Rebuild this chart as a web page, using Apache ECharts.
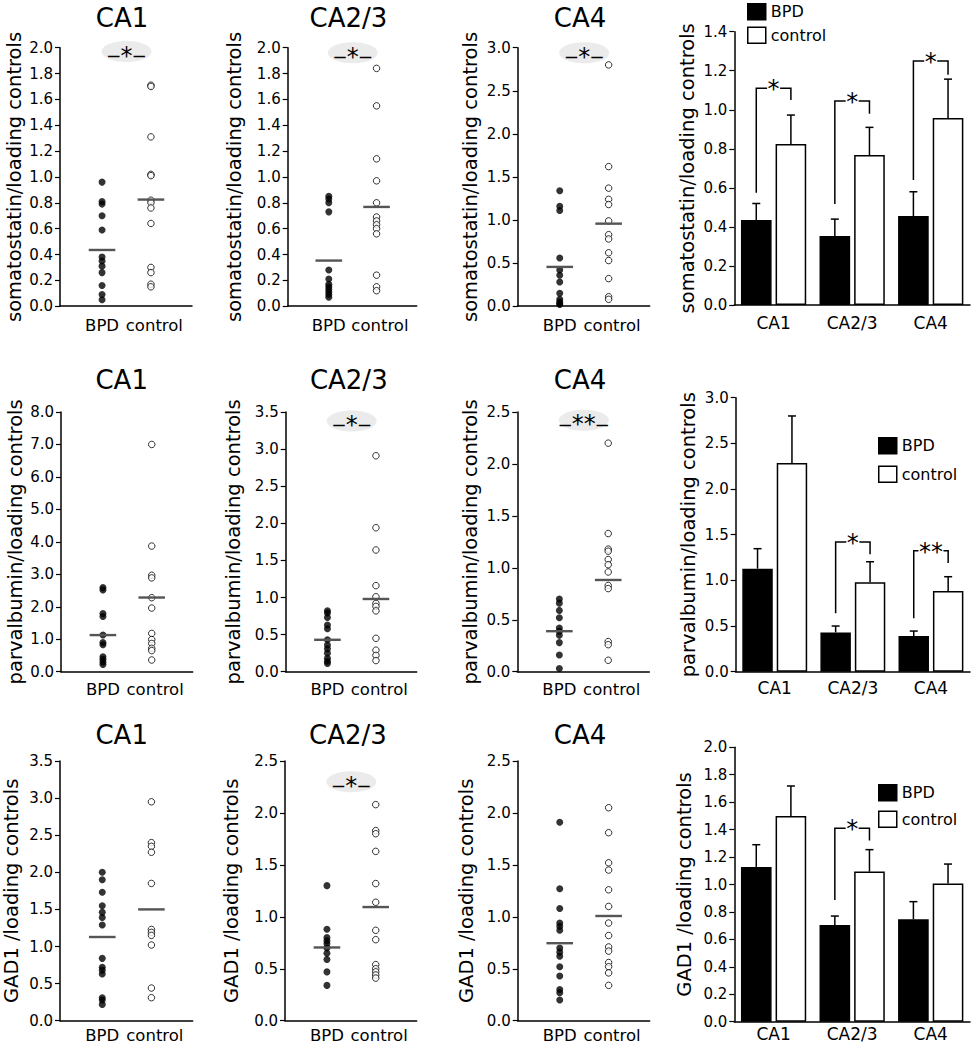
<!DOCTYPE html>
<html><head><meta charset="utf-8">
<script src="https://cdn.jsdelivr.net/npm/echarts@6/dist/echarts.min.js"></script>
<style>html,body{margin:0;padding:0;background:#fff}#c{width:971px;height:1050px}</style>
</head><body><div id="c"></div>
<script>
// ---------- data ----------
const regions = ['CA1', 'CA2/3', 'CA4'];
const groups = ['BPD', 'control'];
const markers = ['somatostatin', 'parvalbumin', 'GAD1'];
const yNames = ['somatostatin/loading controls', 'parvalbumin/loading controls', 'GAD1 /loading controls'];

// individual subjects (scatter panels)
const sstCA1_BPD  = [0.96, 0.81, 0.79, 0.70, 0.59, 0.38, 0.35, 0.31, 0.26, 0.16, 0.09, 0.05];
const sstCA1_Ctrl = [1.71, 1.70, 1.31, 1.02, 1.01, 0.82, 0.80, 0.76, 0.64, 0.30, 0.26, 0.17, 0.15];
const sstCA23_BPD  = [0.85, 0.83, 0.80, 0.73, 0.28, 0.21, 0.17, 0.15, 0.13, 0.11, 0.09, 0.07];
const sstCA23_Ctrl = [1.84, 1.55, 1.14, 0.97, 0.80, 0.69, 0.66, 0.63, 0.60, 0.56, 0.24, 0.15, 0.12];
const sstCA4_BPD  = [1.34, 1.16, 1.11, 0.56, 0.42, 0.36, 0.28, 0.15, 0.08, 0.05, 0.03, 0.02];
const sstCA4_Ctrl = [2.80, 1.62, 1.37, 1.24, 1.18, 0.99, 0.83, 0.78, 0.62, 0.53, 0.32, 0.11, 0.08];

const pvCA1_BPD  = [2.59, 2.52, 1.79, 1.70, 1.13, 0.90, 0.83, 0.46, 0.38, 0.30, 0.22];
const pvCA1_Ctrl = [7.00, 3.87, 2.97, 2.89, 2.28, 1.96, 1.18, 0.99, 0.87, 0.72, 0.65, 0.36];
const pvCA23_BPD  = [0.82, 0.79, 0.73, 0.63, 0.58, 0.43, 0.36, 0.31, 0.25, 0.18, 0.14, 0.11];
const pvCA23_Ctrl = [2.91, 1.94, 1.64, 1.16, 1.01, 0.92, 0.88, 0.82, 0.45, 0.29, 0.22, 0.15];
const pvCA4_BPD  = [0.70, 0.66, 0.59, 0.52, 0.42, 0.39, 0.35, 0.28, 0.16, 0.03];
const pvCA4_Ctrl = [2.20, 1.33, 1.18, 1.16, 1.08, 1.03, 0.96, 0.83, 0.80, 0.29, 0.26, 0.11];

const gadCA1_BPD  = [2.00, 1.90, 1.73, 1.55, 1.46, 1.39, 1.29, 0.84, 0.72, 0.68, 0.63, 0.31, 0.28, 0.22];
const gadCA1_Ctrl = [2.95, 2.40, 2.35, 2.27, 1.85, 1.23, 1.19, 1.15, 1.02, 0.44, 0.31];
const gadCA23_BPD  = [1.30, 0.88, 0.80, 0.77, 0.74, 0.70, 0.65, 0.59, 0.47, 0.34];
const gadCA23_Ctrl = [2.08, 1.83, 1.80, 1.63, 1.32, 1.14, 0.87, 0.78, 0.54, 0.50, 0.47, 0.44, 0.41];
const gadCA4_BPD  = [1.91, 1.27, 1.08, 0.94, 0.91, 0.87, 0.70, 0.66, 0.62, 0.52, 0.43, 0.30, 0.27, 0.20];
const gadCA4_Ctrl = [2.05, 1.81, 1.52, 1.45, 1.26, 1.10, 0.94, 0.82, 0.71, 0.67, 0.56, 0.52, 0.46, 0.34];

// group means and SEM (bar panels, also mean lines)
const sstMeanBPD  = [0.435, 0.353, 0.456];
const sstMeanCtrl = [0.825, 0.768, 0.958];
const sstSemBPD   = [0.085, 0.087, 0.124];
const sstSemCtrl  = [0.148, 0.142, 0.199];
const pvMeanBPD  = [1.128, 0.430, 0.390];
const pvMeanCtrl = [2.285, 0.980, 0.883];
const pvSemBPD   = [0.219, 0.070, 0.055];
const pvSemCtrl  = [0.515, 0.224, 0.157];
const gadMeanBPD  = [1.128, 0.705, 0.746];
const gadMeanCtrl = [1.500, 1.094, 1.008];
const gadSemBPD   = [0.162, 0.065, 0.129];
const gadSemCtrl  = [0.218, 0.160, 0.141];

// significance labels per region
const sstSig = ['*', '*', '*'];
const pvSig  = ['', '*', '**'];
const gadSig = ['', '*', ''];
// value level of the significance bubble in scatter panels
const sstSigLevel = [1.97, 1.96, 2.94];
const pvSigLevel  = [0, 3.38, 2.42];
const gadSigLevel = [0, 2.30, 0];
// bar-panel brackets: [region index, left arm bottom, bracket top, right arm bottom]
const sstBrackets = [[0, 0.575, 1.11, 1.05], [1, 0.517, 1.045, 0.98], [2, 0.64, 1.25, 1.18]];
const pvBrackets  = [[1, 0.64, 1.42, 1.285], [2, 0.584, 1.325, 1.19]];
const gadBrackets = [[1, 0.887, 1.41, 1.32]];

// axis scales / tick labels
const scatterYMax = [[2, 2, 3], [8, 3.5, 2.5], [3.5, 2.5, 2.5]];
const scatterYInt = [[0.2, 0.2, 0.5], [1, 0.5, 0.5], [0.5, 0.5, 0.5]];
const barYMax = [1.4, 3, 2];
const barYInt = [0.2, 0.5, 0.2];

// ---------- layout ----------
const FONT = 'DejaVu Sans';
const scatterRows = [{top: 47.7, h: 258.5}, {top: 412, h: 259.7}, {top: 761, h: 259.7}];
const barRows = [{top: 31.7, h: 273.3}, {top: 397.7, h: 274}, {top: 747.3, h: 274.4}];
const colLeft = [[60, 287.7, 517.7, 734.3], [61, 285.7, 517.3, 735.7], [60, 285, 517.7, 734.3]];
const colWidth = [[132, 129, 132, 235.7], [131.7, 131, 132, 234.3], [132.7, 131.7, 132, 235.7]];
const nameGaps = [[36, 43, 37, 37], [36, 42, 37, 37], [39, 44, 41, 40]];
const titleX = [[122, 348.5, 580], [121.7, 348.8, 580], [121.7, 348, 580]];
const titleY = [18, 380, 735];
const scatterLabelMargin = [11, 9, 6];
const barLabelMargin = [9, 8, 4];
const legendPos = [{left: 747, top: 3, gap: 6}, {left: 878, top: 437, gap: 11}, {left: 878, top: 784, gap: 9}];

const scatterData = [
  [[sstCA1_BPD, sstCA1_Ctrl], [sstCA23_BPD, sstCA23_Ctrl], [sstCA4_BPD, sstCA4_Ctrl]],
  [[pvCA1_BPD, pvCA1_Ctrl], [pvCA23_BPD, pvCA23_Ctrl], [pvCA4_BPD, pvCA4_Ctrl]],
  [[gadCA1_BPD, gadCA1_Ctrl], [gadCA23_BPD, gadCA23_Ctrl], [gadCA4_BPD, gadCA4_Ctrl]]
];
const meanBPD = [sstMeanBPD, pvMeanBPD, gadMeanBPD];
const meanCtrl = [sstMeanCtrl, pvMeanCtrl, gadMeanCtrl];
const semBPD = [sstSemBPD, pvSemBPD, gadSemBPD];
const semCtrl = [sstSemCtrl, pvSemCtrl, gadSemCtrl];
const sigs = [sstSig, pvSig, gadSig];
const sigLevels = [sstSigLevel, pvSigLevel, gadSigLevel];
const brackets = [sstBrackets, pvBrackets, gadBrackets];

const BAR_W = 0.39, BAR_GAP = 0.13;
const OFF = BAR_W * (1 + BAR_GAP) / 2;

function txt(text, x, y, size) {
  return {type: 'text', style: {text: text, x: x, y: y, font: size + 'px "' + FONT + '"', fill: '#000',
    textAlign: 'center', align: 'center', textVerticalAlign: 'middle', verticalAlign: 'middle'}};
}

function meanLine(params, api) {
  const p = api.coord([api.value(0), api.value(1)]);
  return {type: 'line', shape: {x1: p[0] - 13.3, y1: p[1], x2: p[0] + 13.3, y2: p[1]},
    style: {stroke: '#555', lineWidth: 2.4}};
}
function bubble(label) {
  return function (params, api) {
    const p = api.coord([api.value(0), api.value(1)]);
    const sw = label.length * 11.5;
    const dx = sw / 2 + 7;
    return {type: 'group', children: [
      {type: 'ellipse', shape: {cx: p[0], cy: p[1], rx: 25, ry: 10.5}, style: {fill: '#ebebeb'}},
      txt(label, p[0], p[1] + 4, 24),
      txt('_', p[0] - dx, p[1] - 7, 22),
      txt('_', p[0] + dx, p[1] - 7, 22)
    ]};
  };
}
function errBar(sign) {
  return function (params, api) {
    const cat = api.value(0), v = api.value(1), e = api.value(2);
    const bw = api.size([1, 0])[0];
    const p0 = api.coord([cat, v]);
    const p1 = api.coord([cat, v + e]);
    const x = p0[0] + sign * OFF * bw;
    const st = {stroke: '#000', lineWidth: 1.5};
    return {type: 'group', children: [
      {type: 'line', shape: {x1: x, y1: p0[1], x2: x, y2: p1[1]}, style: st},
      {type: 'line', shape: {x1: x - 4, y1: p1[1], x2: x + 4, y2: p1[1]}, style: st}
    ]};
  };
}
function bracket(list, labels) {
  return function (params, api) {
    const b = list[params.dataIndex];
    const lab = labels[b[0]];
    const bw = api.size([1, 0])[0];
    const top = api.coord([b[0], b[2]]);
    const xm = top[0], yt = top[1];
    const xl = xm - OFF * bw, xr = xm + OFF * bw;
    const yl = api.coord([b[0], b[1]])[1], yr = api.coord([b[0], b[3]])[1];
    const g = lab.length * 12 + 1;
    const st = {stroke: '#000', lineWidth: 1.5, fill: 'none'};
    return {type: 'group', children: [
      {type: 'polyline', shape: {points: [[xl, yl], [xl, yt], [xm - g / 2, yt]]}, style: st},
      {type: 'polyline', shape: {points: [[xm + g / 2, yt], [xr, yt], [xr, yr]]}, style: st},
      txt(lab, xm, yt + 1, 24)
    ]};
  };
}

const grids = [], xAxes = [], yAxes = [], series = [], graphics = [], legends = [];
const axisLineStyle = {color: '#000', width: 1.5};

function yAxisCfg(gi, max, interval, name, gap) {
  return {type: 'value', gridIndex: gi, min: 0, max: max, interval: interval,
    name: name, nameLocation: 'middle', nameGap: gap,
    nameTextStyle: {fontSize: 19.5, color: '#000', fontFamily: FONT},
    axisLine: {show: true, lineStyle: axisLineStyle},
    axisTick: {show: true, length: 5, lineStyle: {color: '#000', width: 1.2}},
    axisLabel: {color: '#000', fontSize: 15, fontFamily: FONT, margin: 7, formatter: v => v.toFixed(1)},
    splitLine: {show: false}};
}

for (let r = 0; r < 3; r++) {
  for (let c = 0; c < 4; c++) {
    const gi = r * 4 + c;
    const isBar = c === 3;
    const rowL = isBar ? barRows[r] : scatterRows[r];
    grids.push({left: colLeft[r][c], top: rowL.top, width: colWidth[r][c], height: rowL.h});
    if (!isBar) {
      xAxes.push({type: 'value', gridIndex: gi, min: 0.14, max: 2.84,
        axisLine: {show: true, onZero: false, lineStyle: axisLineStyle},
        axisTick: {show: false}, splitLine: {show: false},
        axisLabel: {customValues: [1, 2.07], formatter: v => (v < 1.5 ? groups[0] : groups[1]),
          color: '#000', fontSize: 16.5, fontFamily: FONT, margin: scatterLabelMargin[r]}});
      yAxes.push(yAxisCfg(gi, scatterYMax[r][c], scatterYInt[r][c], yNames[r], nameGaps[r][c]));
      const [bpd, ctrl] = scatterData[r][c];
      series.push({type: 'scatter', name: groups[0] + ' ' + markers[r] + ' ' + regions[c], xAxisIndex: gi, yAxisIndex: gi,
        data: bpd.map(v => [1, v]), symbol: 'circle', symbolSize: 7, itemStyle: {color: '#000'}, z: 4, silent: true});
      series.push({type: 'scatter', name: groups[1] + ' ' + markers[r] + ' ' + regions[c], xAxisIndex: gi, yAxisIndex: gi,
        data: ctrl.map(v => [2, v]), symbol: 'circle', symbolSize: 6.5,
        itemStyle: {color: '#fff', borderColor: '#000', borderWidth: 1}, z: 4, silent: true});
      series.push({type: 'custom', name: 'mean ' + markers[r] + ' ' + regions[c], xAxisIndex: gi, yAxisIndex: gi,
        data: [[1, meanBPD[r][c]], [2, meanCtrl[r][c]]], renderItem: meanLine, z: 5, silent: true});
      if (sigs[r][c]) {
        series.push({type: 'custom', name: 'sig ' + markers[r] + ' ' + regions[c], xAxisIndex: gi, yAxisIndex: gi,
          data: [[1.5, sigLevels[r][c]]], renderItem: bubble(sigs[r][c]), z: 2, silent: true, clip: false});
      }
      graphics.push(txt(regions[c], titleX[r][c], titleY[r], 26));
    } else {
      xAxes.push({type: 'category', gridIndex: gi, data: regions,
        axisLine: {show: true, lineStyle: axisLineStyle}, axisTick: {show: false},
        axisLabel: {color: '#000', fontSize: 17, fontFamily: FONT, margin: barLabelMargin[r]}});
      yAxes.push(yAxisCfg(gi, barYMax[r], barYInt[r], yNames[r], nameGaps[r][c]));
      series.push({type: 'bar', name: groups[0], xAxisIndex: gi, yAxisIndex: gi, data: meanBPD[r],
        barWidth: (BAR_W * 100) + '%', barGap: (BAR_GAP * 100) + '%',
        itemStyle: {color: '#000', borderColor: '#000', borderWidth: 1.5}, z: 2, silent: true});
      series.push({type: 'bar', name: groups[1], xAxisIndex: gi, yAxisIndex: gi, data: meanCtrl[r],
        barWidth: (BAR_W * 100) + '%', barGap: (BAR_GAP * 100) + '%',
        itemStyle: {color: '#fff', borderColor: '#000', borderWidth: 1.5}, z: 2, silent: true});
      series.push({type: 'custom', name: 'sem BPD ' + markers[r], xAxisIndex: gi, yAxisIndex: gi,
        data: meanBPD[r].map((v, i) => [i, v, semBPD[r][i]]), renderItem: errBar(-1), z: 3, silent: true});
      series.push({type: 'custom', name: 'sem control ' + markers[r], xAxisIndex: gi, yAxisIndex: gi,
        data: meanCtrl[r].map((v, i) => [i, v, semCtrl[r][i]]), renderItem: errBar(1), z: 3, silent: true});
      series.push({type: 'custom', name: 'brackets ' + markers[r], xAxisIndex: gi, yAxisIndex: gi,
        data: brackets[r].map(b => [b[0], b[2]]), renderItem: bracket(brackets[r], sigs[r]), z: 3, silent: true, clip: false});
      legends.push({left: legendPos[r].left, top: legendPos[r].top, orient: 'vertical', padding: 0,
        itemGap: legendPos[r].gap, itemWidth: 18, itemHeight: 16, icon: 'rect', selectedMode: false,
        textStyle: {fontSize: 16, color: '#000', fontFamily: FONT, lineHeight: 16},
        data: [{name: groups[0], itemStyle: {color: '#000', borderColor: '#000', borderWidth: 1.5}},
               {name: groups[1], itemStyle: {color: '#fff', borderColor: '#000', borderWidth: 1.5}}]});
    }
  }
}

const chart = echarts.init(document.getElementById('c'), null, {renderer: 'svg', width: 971, height: 1050});
chart.setOption({
  animation: false,
  backgroundColor: '#fff',
  textStyle: {fontFamily: FONT},
  grid: grids, xAxis: xAxes, yAxis: yAxes, legend: legends,
  graphic: graphics,
  series: series
});
</script>
</body></html>
